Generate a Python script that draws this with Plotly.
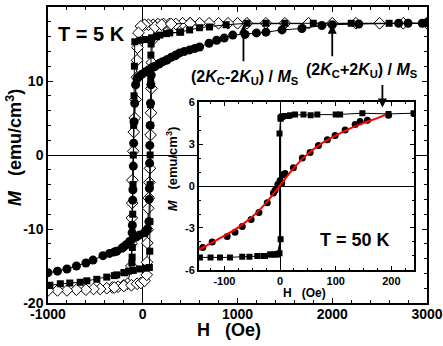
import plotly.graph_objects as go

# ---- main panel, T = 5 K : three samples (open diamonds, squares, dots) ----
# each loop is split into the descending branch and the ascending branch

dia_dn_h = [3000, 2750, 2500, 2250, 2000, 1750, 1500, 1300, 1100, 1000, 900, 800, 700, 600, 500, 420, 350, 280, 220,
            160, 110, 60, 20, -20, -45, -55, -60, -62, -75, -85, -95, -100, -110, -112, -115, -118, -120, -160, -200,
            -260, -320, -380, -450, -520, -600, -700, -800, -900, -1000]
dia_dn_m = [17.8, 17.8, 17.8, 17.8, 17.8, 17.8, 17.8, 17.8, 17.8, 17.8, 17.8, 17.8, 17.8, 17.8, 17.8, 17.8, 17.7, 17.7,
            17.7, 17.7, 17.6, 17.6, 17.6, 17.4, 16.5, 14.5, 12.8, 10.5, 7.5, 5.0, 3.1, 0.5, -3.4, -6.5, -8.5, -12.0,
            -15.0, -17.4, -17.6, -17.8, -17.9, -18.0, -18.1, -18.1, -18.2, -18.2, -18.3, -18.3, -18.3]
dia_up_h = [-300, -200, -120, -60, -20, 20, 42, 45, 48, 52, 58, 64, 70, 76, 82, 88, 92, 95, 100, 130, 200, 300, 500]
dia_up_m = [-17.9, -17.7, -17.6, -17.4, -17.3, -17.0, -16.2, -14.5, -11.9, -10.1, -7.2, -5.8, -3.7, -1.8, 2.7, 5.7,
            9.0, 12.5, 15.5, 17.3, 17.6, 17.7, 17.8]

sq_dn_h = [3000, 2600, 2200, 1800, 1500, 1300, 1100, 880, 705, 600, 495, 390, 285, 180, 145, 95, 40, -30, -84, -88,
           -92, -96, -100, -103, -106, -108, -110, -112, -115, -150, -190, -275, -380, -485, -590, -660, -770, -870,
           -980]
sq_dn_m = [17.8, 17.8, 17.8, 17.8, 17.8, 17.8, 17.8, 17.6, 17.3, 17.2, 16.9, 16.6, 16.5, 16.2, 16.0, 15.8, 15.6, 15.5,
           15.3, 12.0, 8.0, 4.0, 0.0, -4.0, -8.0, -11.0, -12.5, -13.8, -14.6, -15.7, -15.9, -16.2, -16.5, -16.8, -17.0,
           -17.2, -17.3, -17.4, -17.6]
sq_up_h = [-300, -200, -100, -30, 30, 70, 74, 75, 77, 78, 80, 82, 84, 86, 88, 95, 145, 250, 400]
sq_up_m = [-16.3, -15.9, -15.6, -15.4, -15.3, -15.2, -13.0, -9.0, -4.0, 0.0, 4.0, 6.8, 10.0, 13.5, 15.0, 15.8, 16.0,
           16.4, 16.6]

dot_dn_h = [3000, 2950, 2800, 2700, 2280, 2000, 1890, 1680, 1470, 1300, 1200, 1080, 950, 860, 780, 700, 600, 550, 495,
            440, 390, 340, 300, 250, 210, 170, 130, 95, 60, 25, -10, -40, -60, -75, -85, -92, -96, -100, -104, -106,
            -110, -112, -140, -170, -220, -275, -350, -420, -525, -600, -700, -800, -900, -1000]
dot_dn_m = [17.9, 17.8, 17.8, 17.8, 17.7, 17.6, 17.5, 17.1, 16.9, 16.6, 16.5, 16.3, 16.2, 15.8, 15.5, 15.1, 14.6, 14.4,
            14.2, 14.0, 13.8, 13.4, 13.2, 12.8, 12.6, 12.3, 12.0, 11.8, 11.5, 11.2, 10.9, 10.6, 10.3, 9.5, 7.0, 4.5,
            1.6, -1.5, -4.7, -6.1, -9.5, -10.5, -11.7, -12.1, -12.6, -13.0, -13.3, -13.6, -14.2, -14.6, -15.0, -15.4,
            -15.7, -15.9]
dot_up_h = [-300, -200, -130, -70, -30, 20, 50, 65, 68, 70, 72, 74, 78, 82, 86, 90, 120, 180, 260, 350]
dot_up_m = [-13.1, -12.4, -11.7, -11.1, -10.8, -10.5, -10.0, -9.0, -6.0, -4.5, -1.1, 1.3, 4.0, 7.0, 9.5, 10.8, 11.9,
            12.4, 12.9, 13.5]

# ---- inset, T = 50 K ----
in_sq_dn_h = [240, 195, 148, 108, 100, 67, 55, 42, 27, 18, 10, 4, 1, -1, -1, -5, -9, -18, -27, -41, -55, -68, -90,
              -108, -125, -144]
in_sq_dn_m = [5.2, 5.15, 5.2, 5.1, 5.1, 5.1, 5.05, 5.1, 5.1, 5.05, 5.0, 4.95, 4.9, 3.75, -4.8, -4.9, -4.9, -4.9, -5.0,
              -5.0, -5.05, -5.05, -5.1, -5.1, -5.1, -5.1]
in_sq_up_h = [-30, -15, -5, 1, 1, 3, 8, 15]
in_sq_up_m = [-5.0, -4.9, -4.85, -3.8, 4.8, 4.95, 5.0, 5.0]

in_dot_h = [-139, -122, -95, -81, -68, -52, -38, -23, -12, -9, -4, 0, 3, 5, 9, 24, 40, 54, 69, 85, 99, 117, 135, 144,
            157, 195]
in_dot_m = [-4.4, -4.0, -3.6, -3.3, -2.9, -2.4, -1.9, -1.2, -0.5, -0.3, 0.1, 0.4, 0.2, 0.8, 0.9, 1.3, 2.0, 2.4, 2.9,
            3.3, 3.6, 4.0, 4.4, 4.6, 4.7, 5.05]

fit_h = [-146, -125, -100, -75, -50, -25, 0, 25, 50, 75, 100, 125, 150, 175, 190]
fit_m = [-4.55, -4.1, -3.55, -2.95, -2.2, -1.2, 0.05, 1.3, 2.3, 3.05, 3.6, 4.1, 4.5, 4.85, 5.1]

# tick labels (plain hyphen minus like the original)
x_ticks = [-1000, 0, 1000, 2000, 3000]
x_text = ["-1000", "0", "1000", "2000", "3000"]
y_ticks = [-20, -10, 0, 10, 20]
y_text = ["-20", "-10", "0", "10", "20"]
x2_ticks = [-100, 0, 100, 200]
x2_text = ["-100", "0", "100", "200"]
y2_ticks = [-6, -3, 0, 3, 6]
y2_text = ["-6", "-3", "0", "3", "6"]

FONT = "Liberation Sans, Arial, sans-serif"
line = dict(color="black", width=1)
diamond = dict(symbol="diamond", size=9, color="white", line=dict(color="black", width=1))
square = dict(symbol="square", size=7, color="black")
dot = dict(symbol="circle", size=9, color="black")

fig = go.Figure()
for h, m in [(dia_dn_h, dia_dn_m), (dia_up_h, dia_up_m)]:
    fig.add_trace(go.Scatter(x=h, y=m, mode="lines+markers", line=line, marker=diamond))
for h, m in [(sq_dn_h, sq_dn_m), (sq_up_h, sq_up_m)]:
    fig.add_trace(go.Scatter(x=h, y=m, mode="lines+markers", line=line, marker=square))
for h, m in [(dot_dn_h, dot_dn_m), (dot_up_h, dot_up_m)]:
    fig.add_trace(go.Scatter(x=h, y=m, mode="lines+markers", line=line, marker=dot))

# inset
for h, m in [(in_sq_dn_h, in_sq_dn_m), (in_sq_up_h, in_sq_up_m)]:
    fig.add_trace(go.Scatter(x=h, y=m, xaxis="x2", yaxis="y2", mode="lines+markers", line=line,
                             marker=dict(symbol="square", size=6, color="black")))
fig.add_trace(go.Scatter(x=in_dot_h, y=in_dot_m, xaxis="x2", yaxis="y2", mode="markers",
                         marker=dict(symbol="circle", size=7, color="black")))
fig.add_trace(go.Scatter(x=fit_h, y=fit_m, xaxis="x2", yaxis="y2", mode="lines",
                         line=dict(color="red", width=2, shape="spline")))

ax_common = dict(showline=True, linewidth=1.5, linecolor="black", mirror="ticks", ticks="inside",
                 tickcolor="black", tickwidth=1.2, showgrid=False, zeroline=True, zerolinecolor="black",
                 zerolinewidth=1, tickmode="array", automargin=False)

fig.update_layout(
    width=443, height=346,
    margin=dict(l=48, r=16, t=7, b=43),
    paper_bgcolor="white", plot_bgcolor="white",
    showlegend=False,
    font=dict(family=FONT, color="black", size=14, weight="bold"),
    xaxis=dict(range=[-1000, 3000], tickvals=x_ticks, ticktext=x_text, ticklen=5, ticklabelstandoff=-3,
               minor=dict(dtick=200, ticks="inside", ticklen=3, tickcolor="black"),
               tickfont=dict(size=14, weight="bold"), **ax_common),
    yaxis=dict(range=[-20, 20], tickvals=y_ticks, ticktext=y_text, ticklen=5,
               minor=dict(dtick=2, ticks="inside", ticklen=3, tickcolor="black"),
               tickfont=dict(size=14, weight="bold"), **ax_common),
    xaxis2=dict(domain=[0.398, 0.966], anchor="y2", range=[-146, 241], tickvals=x2_ticks, ticktext=x2_text,
                ticklen=4, minor=dict(dtick=25, ticks="inside", ticklen=2.5, tickcolor="black"),
                tickfont=dict(size=11, weight="bold"), **ax_common),
    yaxis2=dict(domain=[0.1115, 0.679], anchor="x2", range=[-6, 6], tickvals=y2_ticks, ticktext=y2_text,
                ticklen=4, minor=dict(dtick=1, ticks="inside", ticklen=2.5, tickcolor="black"),
                tickfont=dict(size=11, weight="bold"), **ax_common),
)

nb = "\u00a0"
notes = [
    dict(text="H" + nb * 3 + "(Oe)", x=0.477, y=-0.09, size=18, angle=0),
    dict(text="<i>M</i>" + nb * 3 + "(emu/cm<sup>3</sup>)", x=-0.09, y=0.527, size=18, angle=-90),
    dict(text="T" + nb + "=" + nb + "5" + nb + "K", x=0.116, y=0.909, size=20, angle=0),
    dict(text="(2<i>K</i><sub>C</sub>-2<i>K</i><sub>U</sub>)" + nb + "/" + nb + "<i>M</i><sub>S</sub>",
         x=0.52, y=0.762, size=16, angle=0),
    dict(text="(2<i>K</i><sub>C</sub>+2<i>K</i><sub>U</sub>)" + nb + "/" + nb + "<i>M</i><sub>S</sub>",
         x=0.8285, y=0.787, size=16, angle=0),
    dict(text="T" + nb + "=" + nb + "50" + nb + "K", x=0.81, y=0.213, size=18, angle=0),
    dict(text="H" + nb * 3 + "(Oe)", x=0.678, y=0.034, size=12, angle=0),
    dict(text="<i>M</i>" + nb * 3 + "(emu/cm<sup>3</sup>)", x=0.327, y=0.455, size=13, angle=-90),
]
for n in notes:
    fig.add_annotation(text=n["text"], x=n["x"], y=n["y"], xref="paper", yref="paper", showarrow=False,
                       textangle=n["angle"], xanchor="center", yanchor="middle",
                       font=dict(family=FONT, size=n["size"], color="black", weight="bold"))

# arrows
arrows = [dict(x=1063, y=17.6, ay=38, xref="x", yref="y"),
          dict(x=2000, y=17.6, ay=33, xref="x", yref="y"),
          dict(x=184, y=5.6, ay=-24, xref="x2", yref="y2")]
for a in arrows:
    fig.add_annotation(text="", x=a["x"], y=a["y"], xref=a["xref"], yref=a["yref"], ax=0, ay=a["ay"],
                       showarrow=True, arrowhead=2, arrowsize=1, arrowwidth=1.8, arrowcolor="black")

# the page body has a default 8px margin; drop it so the figure sits at the window corner
fig.write_html("out.html", config={"displayModeBar": False},
               post_script="document.body.style.margin='0';")
